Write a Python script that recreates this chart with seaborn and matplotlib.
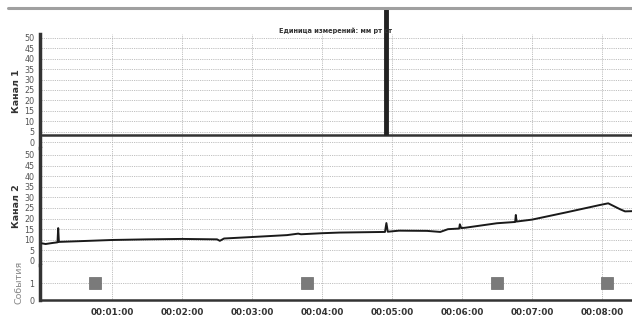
import numpy as np
import pandas as pd
import matplotlib
matplotlib.use("Agg")
import matplotlib.pyplot as plt
from matplotlib.lines import Line2D
import seaborn as sns

# ---- data (time in minutes) ----
ch1_time = [0.0, 1.0, 2.0, 3.0, 4.0, 4.9, 4.95, 6.0, 7.0, 8.0, 8.43]
ch1_value = [3.5, 3.5, 3.5, 3.5, 3.5, 3.5, 3.5, 3.5, 3.5, 3.5, 3.5]
ch1_spike_time = [4.92]
ch1_spike_top = [64.5]

ch2_time = [0.0, 0.05, 0.15, 0.22, 0.23, 0.24, 0.5, 1.0, 1.5, 2.0, 2.5, 2.54, 2.6,
            3.0, 3.5, 3.66, 3.7, 4.0, 4.25, 4.9, 4.92, 4.94, 5.1, 5.5, 5.69, 5.8,
            5.96, 5.97, 5.99, 6.05, 6.5, 6.76, 6.77, 6.78, 7.0, 7.5, 7.97, 8.09,
            8.26, 8.33, 8.43]
ch2_value = [8.3, 8.0, 8.5, 8.8, 15.5, 9.0, 9.3, 9.9, 10.2, 10.4, 10.2, 9.5, 10.6,
             11.3, 12.2, 12.9, 12.6, 13.1, 13.4, 13.7, 17.9, 13.8, 14.3, 14.2, 13.7, 15.0,
             15.3, 17.3, 15.5, 15.7, 17.8, 18.4, 21.7, 18.6, 19.5, 23.0, 26.4, 27.2,
             24.4, 23.4, 23.5]

event_time = [0.76, 3.79, 6.5, 8.07]
event_value = [1, 1, 1, 1]

tick_minutes = [1, 2, 3, 4, 5, 6, 7, 8]
tick_labels = ["00:01:00", "00:02:00", "00:03:00", "00:04:00",
               "00:05:00", "00:06:00", "00:07:00", "00:08:00"]

title_text = "Единица измерений: мм рт ст"

# ---- figure ----
sns.set_style("white")
plt.rcParams['font.family'] = ['DejaVu Sans']
W, H = 632, 327
fig = plt.figure(figsize=(W / 100, H / 100), dpi=100)

def px_axes(top, bottom, left=40, right=632):
    return fig.add_axes([left / W, (H - bottom) / H, (right - left) / W, (bottom - top) / H])

ax1 = px_axes(34, 148)
ax2 = px_axes(148, 265)
ax3 = px_axes(265, 300)

xlim = (-0.03, 8.43)
grid_kw = dict(color="#aaaaaa", linestyle=(0, (1, 1.2)), linewidth=0.6)

df1 = pd.DataFrame({"t": ch1_time, "v": ch1_value})
df2 = pd.DataFrame({"t": ch2_time, "v": ch2_value})
df3 = pd.DataFrame({"t": event_time, "v": event_value})

sns.lineplot(data=df1, x="t", y="v", ax=ax1, color="#333333", linewidth=1.8, zorder=3)
ax1.vlines(ch1_spike_time, ch1_value[0], ch1_spike_top, color="#222222", linewidth=3.5,
           clip_on=False, zorder=4)
sns.lineplot(data=df2, x="t", y="v", ax=ax2, color="#1a1a1a", linewidth=1.4, zorder=3)
sns.scatterplot(data=df3, x="t", y="v", ax=ax3, marker="s", s=70, color="#7a7a7a",
                edgecolor="#6a6a6a", linewidth=0.5, zorder=3, clip_on=False)

for ax, ylim, yticks in [(ax1, (-2.88, 51.9), np.arange(0, 51, 5)),
                          (ax2, (-1.9, 53.3), np.arange(0, 51, 5)),
                          (ax3, (0, 2.06), [0, 1])]:
    ax.set_xlim(*xlim)
    ax.set_ylim(*ylim)
    ax.set_yticks(yticks)
    ax.set_xticks(tick_minutes)
    ax.grid(True, **grid_kw)
    ax.set_axisbelow(True)
    for s in ["top", "right", "bottom"]:
        ax.spines[s].set_visible(False)
    ax.spines["left"].set_linewidth(2.5)
    ax.spines["left"].set_color("#333333")
    ax.tick_params(axis="y", labelsize=5.8, colors="#444444", length=2.5, width=0.8, pad=1.5,
                   labelcolor="#555555")
    ax.set_xlabel("")
    ax.set_ylabel("")

for ax in (ax1, ax2):
    ax.tick_params(axis="x", length=0, labelbottom=False)

ax3.spines["bottom"].set_visible(True)
ax3.spines["bottom"].set_linewidth(1.8)
ax3.spines["bottom"].set_color("#333333")
ax3.set_xticks(np.arange(0, 8.43, 1 / 6), minor=True)
ax3.tick_params(axis="x", which="minor", length=2, width=0.6, color="#555555")
ax3.tick_params(axis="x", which="major", length=2.5, width=0.8, color="#555555", pad=3)
ax3.set_xticklabels(tick_labels, fontsize=6.3, fontweight="bold", color="#333333")

ax1.set_ylabel("Канал 1", fontsize=6.8, fontweight="bold", color="#333333", labelpad=2)
ax2.set_ylabel("Канал 2", fontsize=6.8, fontweight="bold", color="#333333", labelpad=2)
ax3.set_ylabel("События", fontsize=6.8, color="#888888", labelpad=4)

fig.text(335 / W, 1 - 31 / H, title_text, ha="center", va="center", fontsize=4.8,
         fontweight="bold", color="#333333")
fig.add_artist(Line2D([8 / W, 1.0], [1 - 8 / H, 1 - 8 / H], transform=fig.transFigure,
                      color="#a0a0a0", linewidth=2.2))

fig.savefig("out.png", dpi=100)
